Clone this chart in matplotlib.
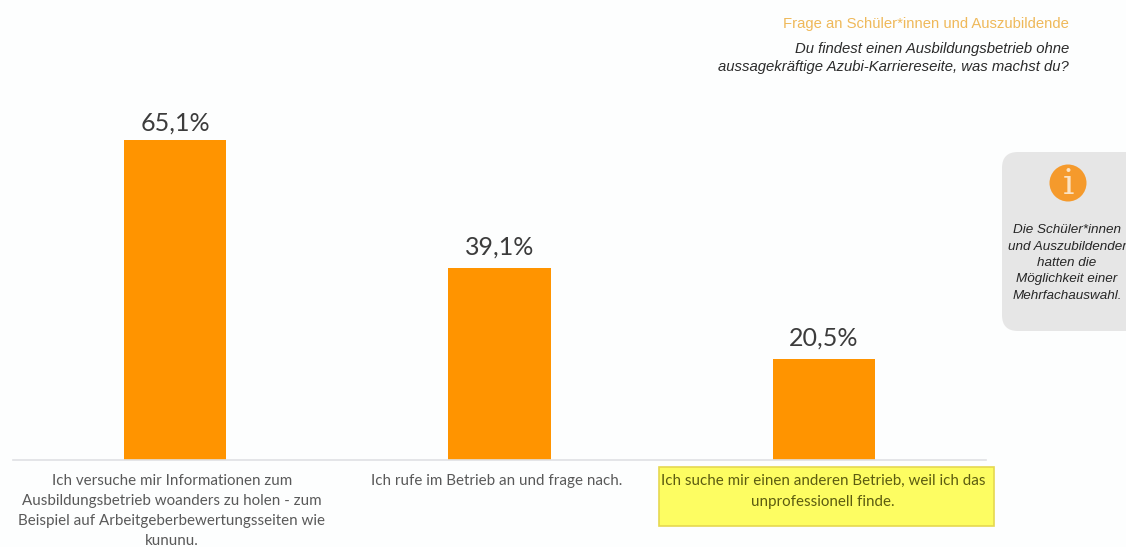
import matplotlib
matplotlib.use("Agg")
import matplotlib.pyplot as plt
from matplotlib.patches import Circle, FancyBboxPatch, Rectangle

W, H = 1126, 547
ORANGE = "#ff9400"

answers = [
    "Ich versuche mir Informationen zum\nAusbildungsbetrieb woanders zu holen - zum\nBeispiel auf Arbeitgeberbewertungsseiten wie\nkununu.",
    "Ich rufe im Betrieb an und frage nach.",
    "Ich suche mir einen anderen Betrieb, weil ich das\nunprofessionell finde.",
]
shares = [65.1, 39.1, 20.5]
share_labels = ["65,1%", "39,1%", "20,5%"]
question_tag = "Frage an Schüler*innen und Auszubildende"
question = "Du findest einen Ausbildungsbetrieb ohne\naussagekräftige Azubi-Karriereseite, was machst du?"
note = "Die Schüler*innen\nund Auszubildender\nhatten die\nMöglichkeit einer\nMehrfachauswahl."

fig = plt.figure(figsize=(W / 100, H / 100), dpi=100, facecolor="#fdfefe")

# bars sit 324.5 px apart on a baseline at y=460
ax = fig.add_axes([12.75 / W, (H - 460) / H, 973.5 / W, 344 / H])
ax.patch.set_alpha(0)
x = [0.5, 1.5, 2.5]
ax.bar(x, shares, width=102 / 324.5, color=ORANGE)
ax.set_xlim(0, 3)
ax.set_ylim(0, 70)
ax.set_yticks([])
ax.set_xticks([])
for s in ["top", "right", "left"]:
    ax.spines[s].set_visible(False)
ax.spines["bottom"].set_color("#dfe1e4")
ax.spines["bottom"].set_linewidth(1.2)
label_pads = [4, 7, 7]
for xi, v, lab, pad in zip(x, shares, share_labels, label_pads):
    ax.annotate(lab, (xi, v), xytext=(0, pad), textcoords="offset points", ha="center",
                va="bottom", fontsize=18, family="Lato", color="#3c3c3c")

# everything outside the bars is placed in pixel coordinates
ov = fig.add_axes([0, 0, 1, 1])
ov.set_xlim(0, W)
ov.set_ylim(H, 0)
ov.axis("off")
ov.patch.set_alpha(0)

ov.add_patch(Rectangle((659, 467), 335, 59, fc="#fdfd62", ec="#e6d850", lw=1.2))
ov.text(172, 474, answers[0], ha="center", va="top", fontsize=10.9, family="Lato",
        color="#595959", linespacing=1.55)
ov.text(497, 474, answers[1], ha="center", va="top", fontsize=10.9, family="Lato",
        color="#595959")
ov.text(823, 474, answers[2], ha="center", va="top", fontsize=10.9, family="Lato",
        color="#5c5c10", linespacing=1.68)

ov.text(1069, 24, question_tag, ha="right", va="center", fontsize=10.7,
        family="Liberation Sans", color="#efb95a")
ov.text(1069, 58, question, ha="right", va="center", fontsize=10.7, style="italic",
        family="Liberation Sans", color="#2b2b2b", linespacing=1.3)

# info box, runs off the right edge
ov.add_patch(FancyBboxPatch((1002, 152), 160, 179, boxstyle="round,pad=0,rounding_size=16",
                            fc="#e6e6e6", ec="none"))
ov.add_patch(Circle((1068, 183), 18.5, fc="#f59a2c", ec="none"))
ov.text(1068, 184, "i", ha="center", va="center", fontsize=26, family="DejaVu Serif",
        color="#fbe3c4")
ov.text(1067, 263, note, ha="center", va="center", fontsize=9.7, style="italic",
        family="Liberation Sans", color="#262626", linespacing=1.48)

fig.savefig("out.png", dpi=100, facecolor=fig.get_facecolor())
